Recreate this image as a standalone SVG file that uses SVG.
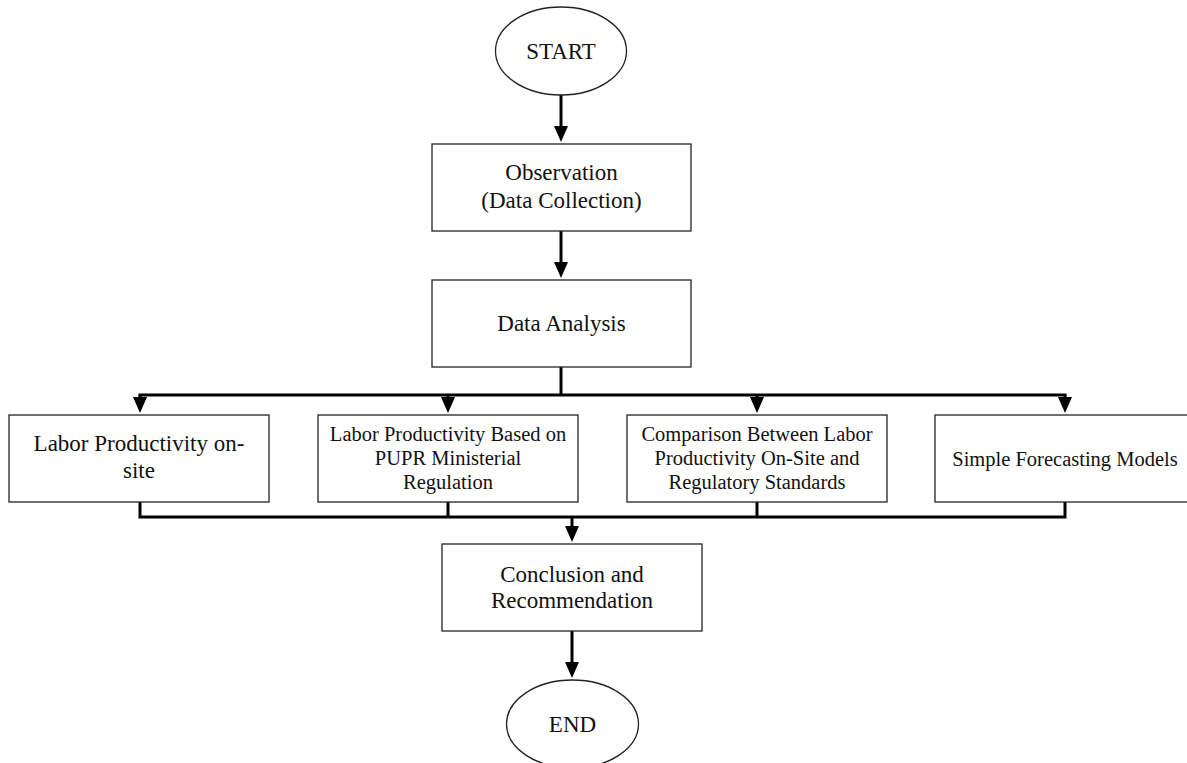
<svg xmlns="http://www.w3.org/2000/svg" width="1187" height="763" viewBox="0 0 1187 763">
<style>
.box{fill:#fff;stroke:#222;stroke-width:1.3}
.t{font-family:"Liberation Serif","Times New Roman",serif;fill:#111;text-anchor:middle}
.l{font-size:23px}
.s{font-size:20.5px}
.c{fill:none;stroke:#000;stroke-width:3}
</style>
<defs>
<marker id="ah" markerUnits="userSpaceOnUse" markerWidth="18" markerHeight="16" refX="2" refY="7" orient="auto" viewBox="0 0 18 14">
<path d="M0,0 L16,7 L0,14 Z" fill="#000"/>
</marker>
</defs>
<rect width="1187" height="763" fill="#fff"/>
<g id="connectors">
<line class="c" x1="561" y1="95" x2="561" y2="128" marker-end="url(#ah)"/>
<line class="c" x1="561" y1="231" x2="561" y2="264" marker-end="url(#ah)"/>
<line class="c" x1="561" y1="367" x2="561" y2="395"/>
<line class="c" x1="138.5" y1="395" x2="1066.5" y2="395"/>
<line class="c" x1="140" y1="395" x2="140" y2="399" marker-end="url(#ah)"/>
<line class="c" x1="448" y1="395" x2="448" y2="399" marker-end="url(#ah)"/>
<line class="c" x1="757" y1="395" x2="757" y2="399" marker-end="url(#ah)"/>
<line class="c" x1="1065" y1="395" x2="1065" y2="399" marker-end="url(#ah)"/>
<polyline class="c" points="140,502 140,517 1065,517 1065,502"/>
<line class="c" x1="448" y1="502" x2="448" y2="517"/>
<line class="c" x1="757" y1="502" x2="757" y2="517"/>
<line class="c" x1="572" y1="517" x2="572" y2="528" marker-end="url(#ah)"/>
<line class="c" x1="572" y1="631" x2="572" y2="664" marker-end="url(#ah)"/>
</g>
<g id="start">
<ellipse class="box" cx="561" cy="51" rx="65.5" ry="44"/>
<text class="t l" x="561" y="58.5">START</text>
</g>
<g id="observation">
<rect class="box" x="432" y="144" width="259" height="87"/>
<text class="t l" x="561.5" y="180">Observation</text>
<text class="t l" x="561.5" y="208">(Data Collection)</text>
</g>
<g id="analysis">
<rect class="box" x="432" y="280" width="259" height="87"/>
<text class="t l" x="561.5" y="331">Data Analysis</text>
</g>
<g id="onsite">
<rect class="box" x="9" y="415" width="260" height="87"/>
<text class="t l" x="139" y="451">Labor Productivity on-</text>
<text class="t l" x="139" y="478">site</text>
</g>
<g id="pupr">
<rect class="box" x="318" y="415" width="260" height="87"/>
<text class="t s" x="448" y="441">Labor Productivity Based on</text>
<text class="t s" x="448" y="465">PUPR Ministerial</text>
<text class="t s" x="448" y="489">Regulation</text>
</g>
<g id="comparison">
<rect class="box" x="627" y="415" width="260" height="87"/>
<text class="t s" x="757" y="441">Comparison Between Labor</text>
<text class="t s" x="757" y="465">Productivity On-Site and</text>
<text class="t s" x="757" y="489">Regulatory Standards</text>
</g>
<g id="forecast">
<rect class="box" x="935" y="415" width="260" height="87"/>
<text class="t s" x="1065" y="466">Simple Forecasting Models</text>
</g>
<g id="conclusion">
<rect class="box" x="442" y="544" width="260" height="87"/>
<text class="t l" x="572" y="582">Conclusion and</text>
<text class="t l" x="572" y="608">Recommendation</text>
</g>
<g id="end">
<ellipse class="box" cx="572.5" cy="724" rx="66" ry="44"/>
<text class="t l" x="572.5" y="731.5">END</text>
</g>
</svg>
